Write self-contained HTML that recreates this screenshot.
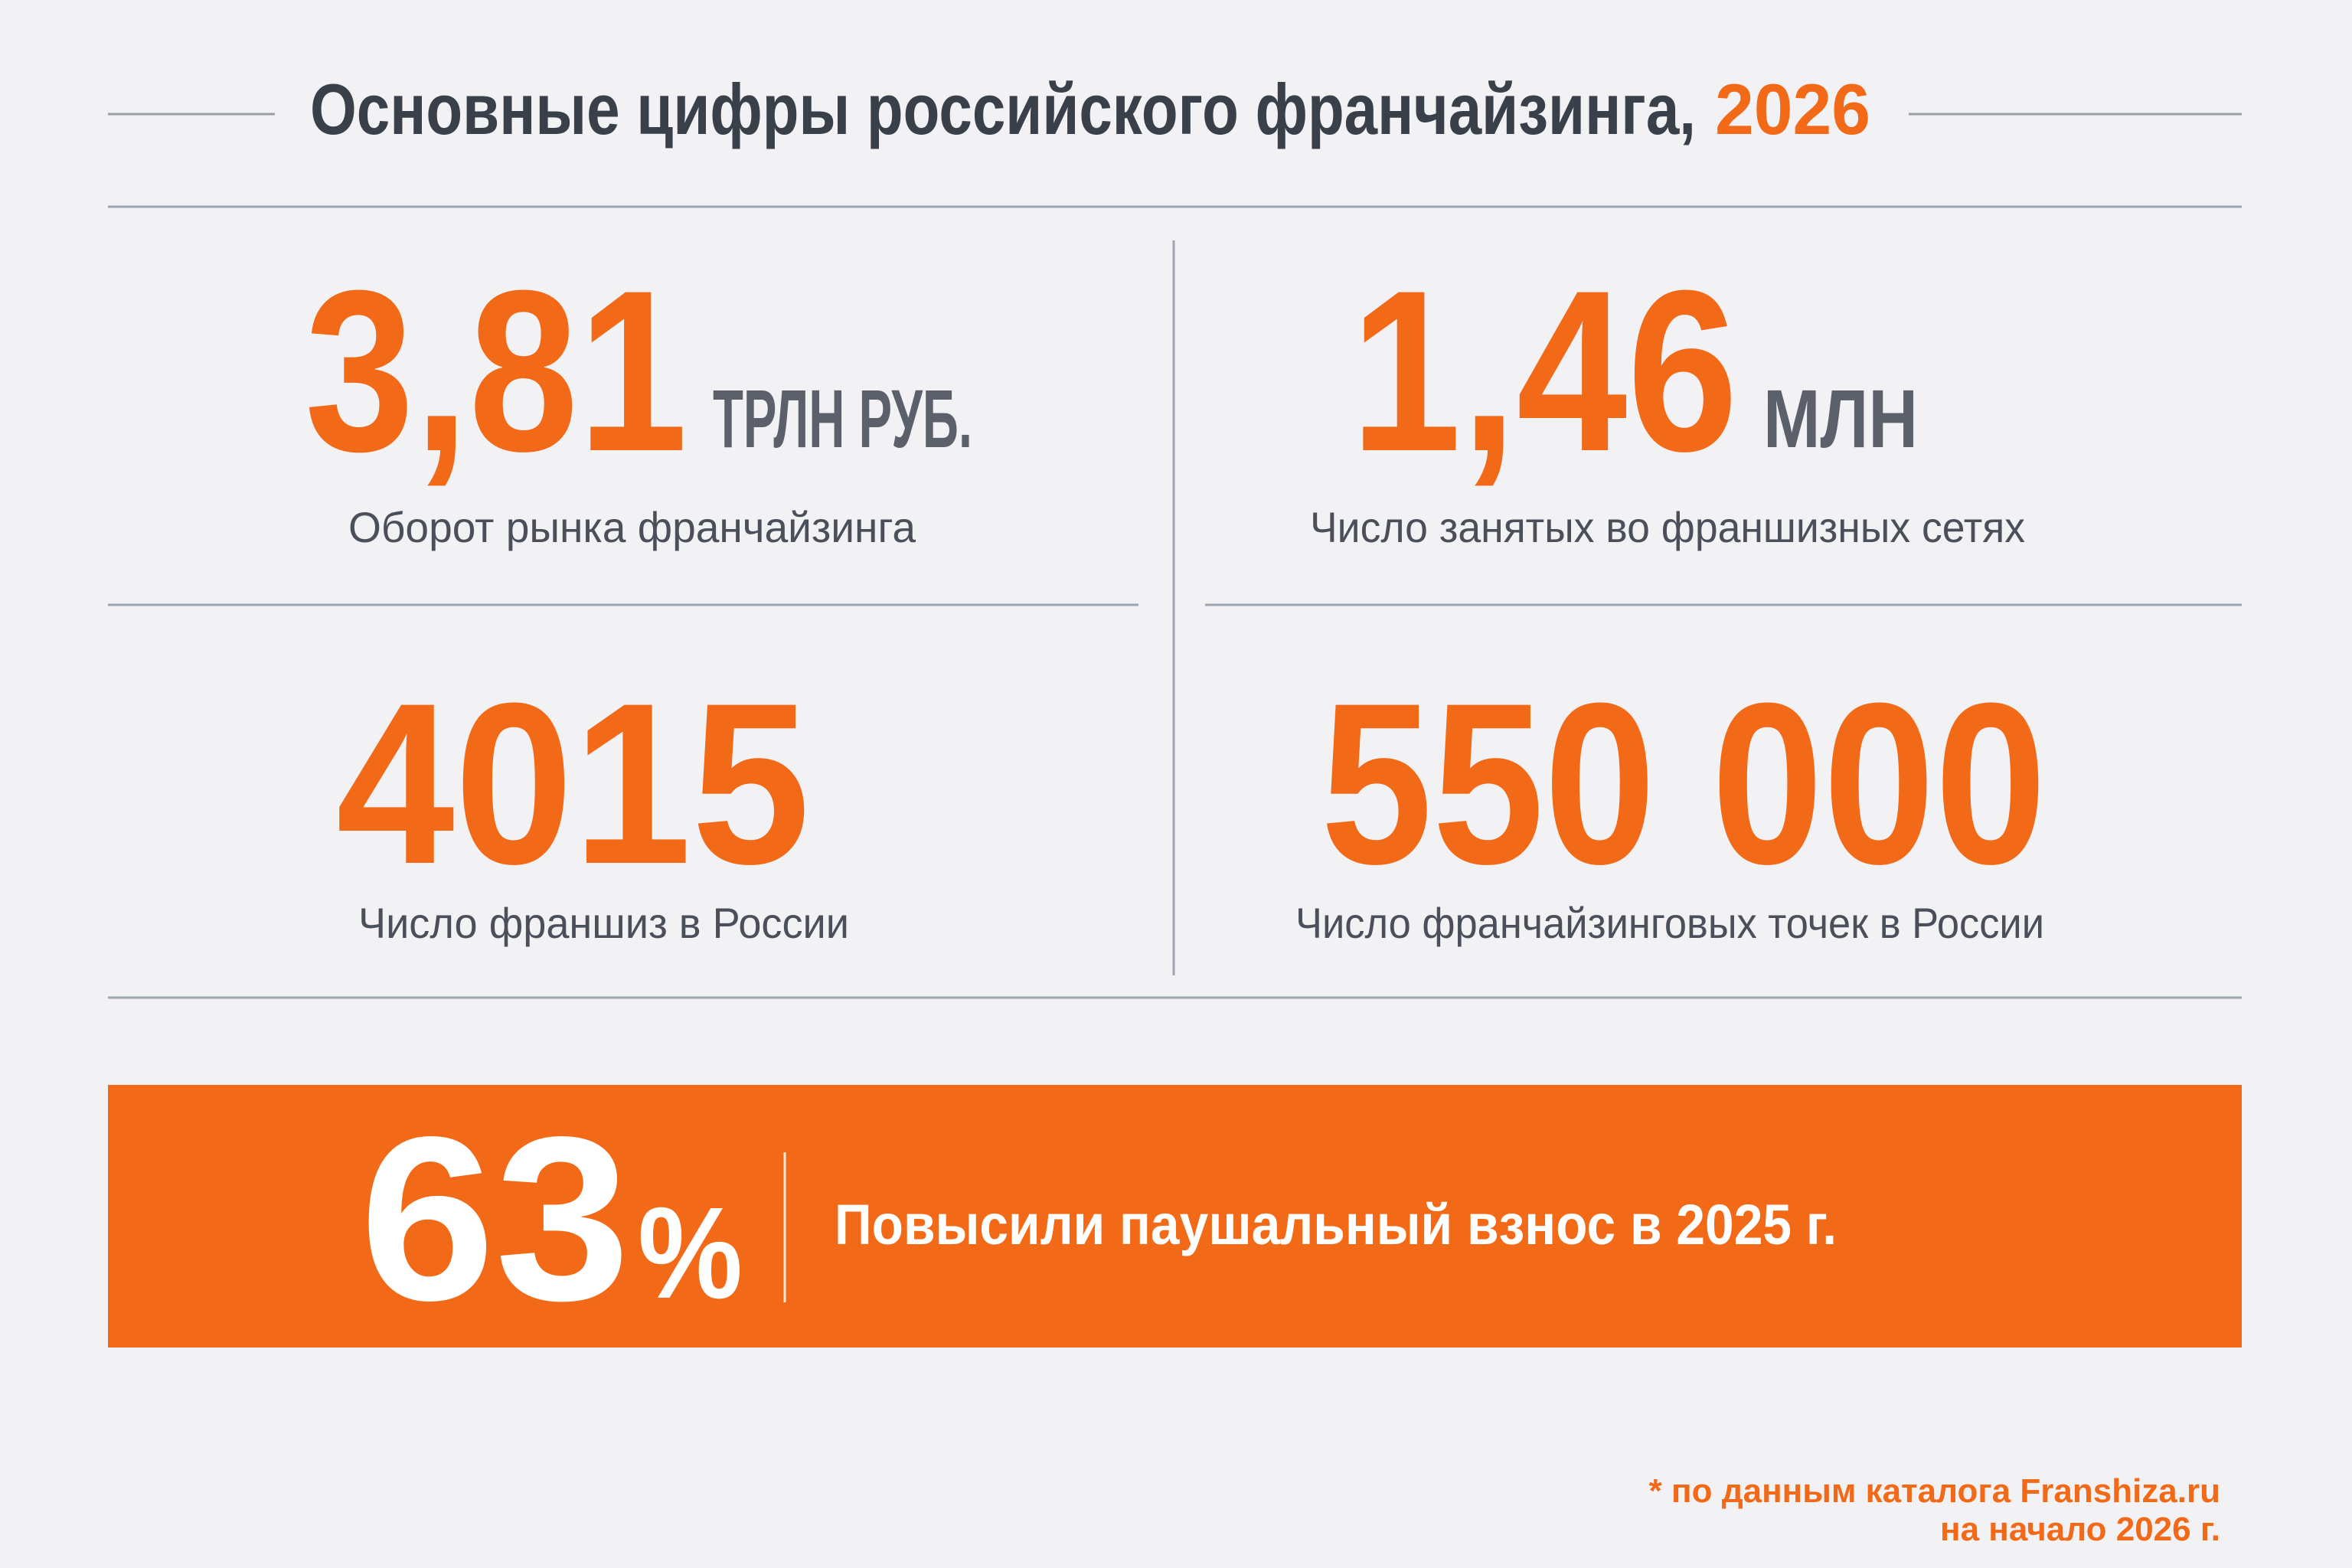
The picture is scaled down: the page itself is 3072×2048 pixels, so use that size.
<!DOCTYPE html>
<html><head><meta charset="utf-8">
<style>
html,body{margin:0;padding:0;background:#f2f2f5;}
svg{display:block;}
text{font-family:"Liberation Sans","DejaVu Sans",sans-serif;}
</style></head>
<body>
<svg width="3072" height="2048" viewBox="0 0 3072 2048">
  <rect x="0" y="0" width="3072" height="2048" fill="#f2f2f5"/>
  <line x1="141" y1="149" x2="359" y2="149" stroke="#9a9ea8" stroke-width="3"/>
  <line x1="2493" y1="149" x2="2928" y2="149" stroke="#9a9ea8" stroke-width="3"/>
  <text x="405" y="175" font-size="94" font-weight="bold" fill="#3a4049" textLength="1810" lengthAdjust="spacingAndGlyphs">Основные цифры российского франчайзинга,</text>
  <text x="2240" y="175" font-size="94" font-weight="bold" fill="#f26a18" textLength="203" lengthAdjust="spacingAndGlyphs">2026</text>
  <line x1="141" y1="270" x2="2928" y2="270" stroke="#a0a4ae" stroke-width="3"/>
  <line x1="1533" y1="314" x2="1533" y2="1274" stroke="#a0a4ae" stroke-width="3"/>
  <line x1="141" y1="790" x2="1487" y2="790" stroke="#a0a4ae" stroke-width="3"/>
  <line x1="1574" y1="790" x2="2928" y2="790" stroke="#a0a4ae" stroke-width="3"/>
  <line x1="141" y1="1303" x2="2928" y2="1303" stroke="#a0a4ae" stroke-width="3"/>
  <text x="398" y="588" font-size="300" font-weight="bold" fill="#f26a18" textLength="500" lengthAdjust="spacingAndGlyphs">3,81</text>
  <text x="931" y="584" font-size="108" font-weight="bold" fill="#5b606b" textLength="339" lengthAdjust="spacingAndGlyphs">ТРЛН РУБ.</text>
  <text x="455" y="708" font-size="56" fill="#4a4f5a" textLength="741" lengthAdjust="spacingAndGlyphs">Оборот рынка франчайзинга</text>
  <text x="1764" y="588" font-size="300" font-weight="bold" fill="#f26a18" textLength="506" lengthAdjust="spacingAndGlyphs">1,46</text>
  <text x="2303" y="584" font-size="108" font-weight="bold" fill="#5b606b" textLength="202" lengthAdjust="spacingAndGlyphs">МЛН</text>
  <text x="1711" y="708" font-size="56" fill="#4a4f5a" textLength="934" lengthAdjust="spacingAndGlyphs">Число занятых во франшизных сетях</text>
  <text x="439" y="1127" font-size="300" font-weight="bold" fill="#f26a18" textLength="619" lengthAdjust="spacingAndGlyphs">4015</text>
  <text x="468" y="1225" font-size="56" fill="#4a4f5a" textLength="641" lengthAdjust="spacingAndGlyphs">Число франшиз в России</text>
  <text x="1725" y="1127" font-size="300" font-weight="bold" fill="#f26a18" textLength="948" lengthAdjust="spacingAndGlyphs">550 000</text>
  <text x="1692" y="1225" font-size="56" fill="#4a4f5a" textLength="978" lengthAdjust="spacingAndGlyphs">Число франчайзинговых точек в России</text>
  <rect x="141" y="1417" width="2787" height="343" fill="#f26a18"/>
  <text x="470" y="1697" font-size="305" font-weight="bold" fill="#ffffff" textLength="353" lengthAdjust="spacingAndGlyphs">63</text>
  <text x="833" y="1695" font-size="170" font-weight="bold" fill="#ffffff" textLength="137" lengthAdjust="spacingAndGlyphs">%</text>
  <line x1="1025" y1="1505" x2="1025" y2="1701" stroke="#ffffff" stroke-opacity="0.85" stroke-width="3"/>
  <text x="1090" y="1625" font-size="74" font-weight="bold" fill="#ffffff" textLength="1309" lengthAdjust="spacingAndGlyphs">Повысили паушальный взнос в 2025 г.</text>
  <text x="2900" y="1962" font-size="44" font-weight="bold" fill="#f26a18" text-anchor="end">* по данным каталога Franshiza.ru</text>
  <text x="2900" y="2012" font-size="44" font-weight="bold" fill="#f26a18" text-anchor="end">на начало 2026 г.</text>
</svg>
</body></html>
